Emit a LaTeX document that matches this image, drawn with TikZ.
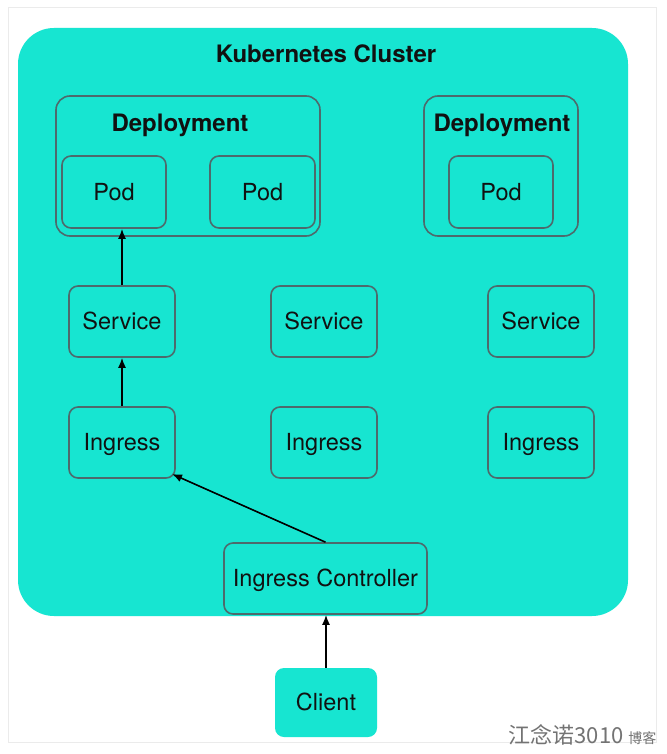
\documentclass[tikz,border=0pt]{standalone}
\usepackage{fontspec}
\setmainfont{TeX Gyre Heros}
\newfontfamily\cjk{Noto Sans CJK SC}
\usetikzlibrary{arrows.meta}
\definecolor{teal1}{HTML}{17E5D1}
\definecolor{edge1}{HTML}{4D6A6C}
\definecolor{ink}{HTML}{111111}
\begin{document}
\begin{tikzpicture}[x=1pt,y=-1pt,
  box/.style={draw=edge1,line width=1.6pt,rounded corners=9pt,fill=teal1,inner sep=0pt,text=ink,text height=16pt,text depth=0pt,font=\fontsize{23.5}{26}\selectfont},
  grp/.style={draw=edge1,line width=1.6pt,rounded corners=14pt,fill=teal1,inner sep=0pt},
  bt/.style={font=\bfseries\fontsize{24}{28}\selectfont,text=ink},
  arr/.style={-{Latex[length=10pt,width=8pt]},line width=1.6pt,black}]
\useasboundingbox (0,0) rectangle (666,754);
\fill[white] (0,0) rectangle (666,754);
\draw[black!8,line width=1pt] (8,8) rectangle (656,742);
% cluster
\node[fill=teal1,rounded corners=36pt,minimum width=610pt,minimum height=588pt,inner sep=0pt] (cluster) at (323,322) {};
\node[bt] (title) at (326,54) {Kubernetes Cluster};
% deployments
\node[grp,minimum width=264pt,minimum height=140pt] (dep1) at (188,166) {};
\node[bt] (dep1t) at (180,125.5) {Deployment};
\node[grp,minimum width=154pt,minimum height=140pt] (dep2) at (501,166) {};
\node[bt] (dep2t) at (502,125.5) {Deployment};
\node[box,minimum width=104pt,minimum height=72pt] (pod1) at (114,192) {Pod};
\node[box,minimum width=105pt,minimum height=72pt] (pod2) at (262.5,192) {Pod};
\node[box,minimum width=104pt,minimum height=72pt] (pod3) at (501,192) {Pod};
% services
\node[box,minimum width=106pt,minimum height=71pt] (svc1) at (122,321.5) {Service};
\node[box,minimum width=106pt,minimum height=71pt] (svc2) at (324,321.5) {Service};
\node[box,minimum width=106pt,minimum height=71pt] (svc3) at (541,321.5) {Service};
% ingresses
\node[box,minimum width=106pt,minimum height=71pt] (ing1) at (122,442.5) {Ingress};
\node[box,minimum width=106pt,minimum height=71pt] (ing2) at (324,442.5) {Ingress};
\node[box,minimum width=106pt,minimum height=71pt] (ing3) at (541,442.5) {Ingress};
% controller
\node[box,minimum width=203pt,minimum height=71pt] (ctrl) at (325.5,578.5) {Ingress Controller};
% client
\node[fill=teal1,rounded corners=9pt,minimum width=102pt,minimum height=69pt,inner sep=0pt,text=ink,text height=16pt,text depth=0pt,font=\fontsize{23.5}{26}\selectfont] (client) at (326,702.5) {Client};
% arrows
\draw[arr] (svc1.north) -- (pod1.south -| svc1.north);
\draw[arr] (ing1.north) -- (svc1.south);
\coordinate (ing1c) at (172,474);
\draw[arr] (ctrl.north) -- (ing1c);
\draw[arr] (client.north) -- (ctrl.south -| client.north);
% watermark
\node[font=\cjk\fontsize{22}{24}\selectfont,text=black!55,anchor=east] (wm) at (660,735) {江念诺3010 {\fontsize{14}{16}\selectfont 博客}};
\end{tikzpicture}
\end{document}
